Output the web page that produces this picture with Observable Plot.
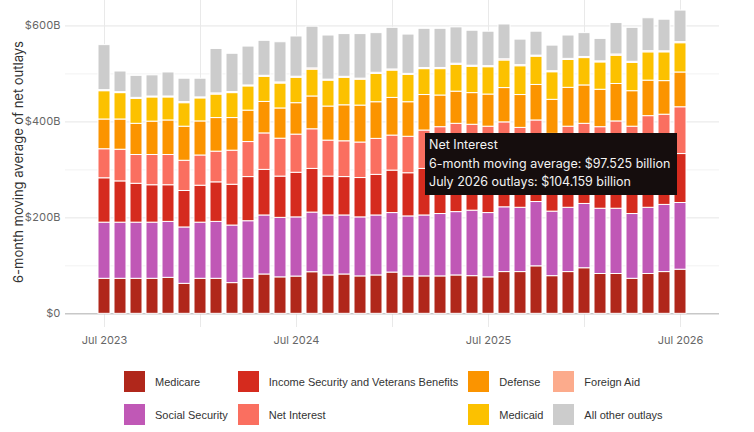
<!DOCTYPE html>
<html>
<head>
<meta charset="utf-8">
<script src="https://cdn.jsdelivr.net/npm/d3@7"></script>
<script src="https://cdn.jsdelivr.net/npm/@observablehq/plot@0.6"></script>
<style>
  html, body { margin: 0; padding: 0; background: #fff; }
  body { font-family: Inter, "Noto Sans", sans-serif; width: 754px; height: 432px; overflow: hidden; }
  #wrap { position: relative; width: 754px; height: 432px; }
  #legend { display: grid; grid-template-rows: 21px 21px; grid-auto-flow: column; grid-auto-columns: max-content;
            column-gap: 10px; row-gap: 12px; margin-left: 124px; padding-top: 21px;
            font-family: "Liberation Sans", Arial, sans-serif; font-size: 11px; color: #333; }
  .item { display: flex; align-items: center; height: 21px; }
  .sw { width: 21px; height: 21px; margin-right: 10px; flex: none; }
  #tip { position: absolute; left: 425px; top: 133px; width: 248px; height: 58px; background: #150d0d;
         color: #f2f2f2; font-size: 12.5px; line-height: 18.5px; padding: 3px 0 1px 4px; white-space: nowrap; }
</style>
</head>
<body>
<div id="wrap">
  <div id="chart"></div>
  <div id="legend"></div>
  <div id="tip"></div>
</div>
<script>
const months = d3.utcMonth.range(new Date(Date.UTC(2023, 6, 1)), new Date(Date.UTC(2026, 7, 1))).map(d3.utcFormat("%Y-%m"));
const labelTicks = ["2023-07", "2024-07", "2025-07", "2026-07"];
const gridTicks = ["2023-07", "2024-01", "2024-07", "2025-01", "2025-07", "2026-01", "2026-07"];
const yTicks = [0, 200, 400, 600];
const yMinor = [100, 300, 500];

const categories = ["Medicare", "Social Security", "Income Security and Veterans Benefits", "Net Interest",
                    "Defense", "Medicaid", "Foreign Aid", "All other outlays"];
const colors = ["#b0271b", "#c058b6", "#d52b1e", "#fa6f60", "#fb9400", "#fcc100", "#fcab8c", "#cccccc"];

// 6-month moving average of net outlays, $ billions
const medicare = [73,73,73,73,75,62.5,73,73,64,73,82,76,77.7,86.7,80,82,78,80,86,77.7,78,78,80,78.5,76,87,87,99,78.5,87,95,83,83,73,83,87,92];
const socialSecurity = [117,117,117,117,116.6,117.5,117,118.6,120,120,123,124,123.3,124.3,125,123,123,125,124,125.3,127,130,132,136.5,134,135,134,134,134.5,134,134,136,136,135,138,140,139];
const incomeSecurity = [92.5,86,81,78,76.4,76,77,82.4,85,92,95,86,93,91,81,80,82,84.6,88.5,90,97,98,99,96,96,93,82,84,78,82,80,82,92,91,97,92,102];
const netInterest = [60.5,66,60,63,63,63,63,64,71,73,76,79,79.5,82.6,75,74.6,74,75,73,76,80,83,85,83,84,84,84.5,86,84,87,87,88,90,91,94,96,97.5];
const defense = [62,63,65,69.6,72,71,71,70,68,65.5,65.6,63,65.5,68.4,71,75,77,76.4,78.5,72,74,66,67,66,67,71.5,68.5,74,71,81,80,78,78,74,74,70,72.5];
const medicaid = [59,55,52,50.4,48,49,48,49,52,50.5,52.4,52,53,56,54,57.4,54,59,57,57,54,55,56,55,57,57.5,60,59,57.5,58,57,57,59,59,59,60,61];
const foreignAid = [2.2,2.0,2.1,1.9,2.0,2.3,2.1,2.4,2.2,2.0,2.1,2.3,2.2,2.5,2.1,2.0,2.2,2.4,2.3,2.1,2.2,2.4,2.3,2.1,2.2,2.5,2.3,2.1,2.2,2.4,2.3,2.2,2.5,2.3,2.4,2.2,2.3];
const allOther = [93.8,43,45.9,44.1,50,48.7,38.9,92.6,79.8,81,72.9,83.7,83.8,87,91.9,89,92.8,82.6,86.7,81.9,81.8,81.6,75.7,72.9,71.8,72.5,53.2,49.9,53.3,48.6,49.7,46.8,65.5,70.7,68.6,65.8,65.7];

const series = [medicare, socialSecurity, incomeSecurity, netInterest, defense, medicaid, foreignAid, allOther];
const data = [];
series.forEach((vals, k) => vals.forEach((v, i) => data.push({month: months[i], category: categories[k], value: v})));

const monthFmt = d3.utcFormat("%b %Y");
const parseM = d3.utcParse("%Y-%m");

const chart = Plot.plot({
  width: 754,
  height: 350,
  marginLeft: 65,
  marginRight: 35,
  marginTop: 0,
  marginBottom: 23,
  style: {fontFamily: "Inter, 'Noto Sans', sans-serif", fontSize: "11px", color: "#666", background: "white"},
  x: {type: "band", domain: months, paddingInner: 0.27, paddingOuter: 2.0},
  y: {domain: [-28.5, 653]},
  color: {domain: categories, range: colors},
  marks: [
    Plot.ruleY(yMinor, {stroke: "#f2f2f2"}),
    Plot.ruleY(yTicks.slice(1), {stroke: "#e6e6e6"}),
    Plot.gridX(gridTicks, {stroke: "#e9e9e9", strokeOpacity: 1}),
    Plot.ruleY([0], {stroke: "#c8c8c8", strokeWidth: 1.5}),
    Plot.barY(data, {x: "month", y: "value", fill: "category", order: categories, stroke: "white", strokeWidth: 1}),
    Plot.axisY({ticks: yTicks, tickSize: 0, tickPadding: 5, label: null, fill: "#666",
                tickFormat: d => d === 0 ? "$0" : `$${d}B`}),
    Plot.axisX({ticks: labelTicks, tickSize: 0, tickPadding: 9, label: null, fill: "#666",
                tickFormat: d => monthFmt(parseM(d))}),
    Plot.text(["6-month moving average of net outlays"], {frameAnchor: "left", textAnchor: "middle", rotate: -90,
                dx: -47, dy: -2, fontSize: 13, fill: "#333"})
  ]
});
document.getElementById("chart").appendChild(chart);

const legend = d3.select("#legend");
categories.forEach((c, k) => {
  const it = legend.append("div").attr("class", "item");
  it.append("div").attr("class", "sw").style("background", colors[k]);
  it.append("span").text(c);
});

const tipLines = ["Net Interest", "6-month moving average: $97.525 billion", "July 2026 outlays: $104.159 billion"];
d3.select("#tip").selectAll("div").data(tipLines).join("div").text(d => d);
</script>
</body>
</html>
